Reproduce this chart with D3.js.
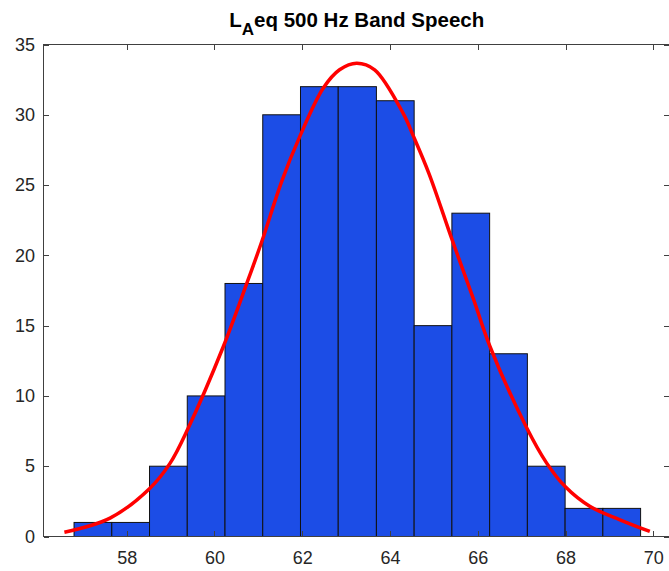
<!DOCTYPE html>
<html lang="en">
<head>
    <meta charset="UTF-8">
    <title>LAeq 500 Hz Band Speech</title>
    <script src="https://d3js.org/d3.v7.min.js"></script>
    <style>
        body { margin: 0; background: #fff; }
        svg { display: block; font-family: "Liberation Sans", Arial, Helvetica, sans-serif; }
        .axis text { font-size: 18px; fill: #262626; }
        .axis line { stroke: #404040; shape-rendering: crispEdges; }
        .axis path { display: none; }
        .bar { fill: #1c4de6; stroke: #111; stroke-width: 1; }
        .fit { fill: none; stroke: #ff0000; stroke-width: 3.5; }
    </style>
</head>
<body>
    <svg width="669" height="571"></svg>
    <script>
        // histogram bin edges (16 edges -> 15 bins) and counts
        const binEdges = [56.80, 57.66, 58.52, 59.38, 60.24, 61.10, 61.96, 62.82,
                          63.69, 64.55, 65.41, 66.27, 67.13, 67.99, 68.85, 69.71];
        const counts = [1, 1, 5, 10, 18, 30, 32, 32, 31, 15, 23, 13, 5, 2, 2];

        // fitted normal curve
        const fitX = [56.58, 57.62, 58.53, 58.99, 59.40, 60.20, 60.73, 61.08, 61.53, 61.95, 62.48, 62.85,
                      63.24, 63.65, 64.30, 64.53, 64.89, 65.41, 65.90, 66.28, 67.12, 67.57, 67.99, 68.56, 69.24, 69.92];
        const fitY = [0.30, 1.31, 3.44, 5.22, 7.70, 13.50, 17.95, 21.0, 25.25, 28.5, 31.9, 33.2,
                      33.67, 33.2, 30.1, 28.5, 25.8, 21.15, 16.9, 13.50, 7.70, 5.22, 3.55, 2.13, 1.19, 0.36];

        const xTicks = [58, 60, 62, 64, 66, 68, 70];
        const yTicks = [0, 5, 10, 15, 20, 25, 30, 35];

        const svg = d3.select("svg");
        const plotL = 43.5, plotR = 670, plotT = 44.5, plotB = 536.5;

        const x = d3.scaleLinear().domain([56.104, 70.38]).range([plotL, plotR]);
        const y = d3.scaleLinear().domain([0, 35]).range([plotB, plotT]);

        // bars
        const bins = counts.map((c, i) => ({x0: binEdges[i], x1: binEdges[i + 1], n: c}));
        svg.append("g").selectAll("rect")
            .data(bins)
            .enter()
            .append("rect")
            .attr("class", "bar")
            .attr("x", d => x(d.x0))
            .attr("y", d => y(d.n))
            .attr("width", d => x(d.x1) - x(d.x0))
            .attr("height", d => y(0) - y(d.n));

        // fit curve
        const pts = fitX.map((v, i) => [v, fitY[i]]);
        svg.append("path")
            .datum(pts)
            .attr("class", "fit")
            .attr("d", d3.line()
                .x(d => x(d[0]))
                .y(d => y(d[1]))
                .curve(d3.curveCatmullRom.alpha(0.5)));

        // axes, ticks point inward like MATLAB
        const tk = 5.5;
        svg.append("g").attr("class", "axis")
            .attr("transform", `translate(0,${plotB})`)
            .call(d3.axisBottom(x).tickValues(xTicks).tickSizeInner(-tk).tickSizeOuter(0).tickPadding(15));
        svg.append("g").attr("class", "axis")
            .attr("transform", `translate(0,${plotT})`)
            .call(d3.axisTop(x).tickValues(xTicks).tickSizeInner(-tk).tickSizeOuter(0).tickFormat(""));
        svg.append("g").attr("class", "axis")
            .attr("transform", `translate(${plotL},0)`)
            .call(d3.axisLeft(y).tickValues(yTicks).tickSizeInner(-tk).tickSizeOuter(0).tickPadding(8.5));
        svg.append("g").attr("class", "axis")
            .attr("transform", `translate(${plotR - 1},0)`)
            .call(d3.axisRight(y).tickValues(yTicks).tickSizeInner(-tk).tickSizeOuter(0).tickFormat(""));

        svg.selectAll(".axis").attr("font-family", null).attr("font-size", null);

        // box
        svg.append("rect")
            .attr("x", plotL).attr("y", plotT)
            .attr("width", plotR - plotL).attr("height", plotB - plotT)
            .attr("fill", "none").attr("stroke", "#404040")
            .attr("shape-rendering", "crispEdges");

        // title with subscript
        const title = svg.append("text")
            .attr("x", (plotL + plotR) / 2)
            .attr("y", 27)
            .attr("text-anchor", "middle")
            .attr("font-weight", "bold")
            .attr("font-size", 20.5)
            .attr("fill", "#000");
        title.append("tspan").text("L");
        title.append("tspan").attr("dy", 8).attr("font-size", 17).text("A");
        title.append("tspan").attr("dy", -8).text("eq 500 Hz Band Speech");
    </script>
</body>
</html>
